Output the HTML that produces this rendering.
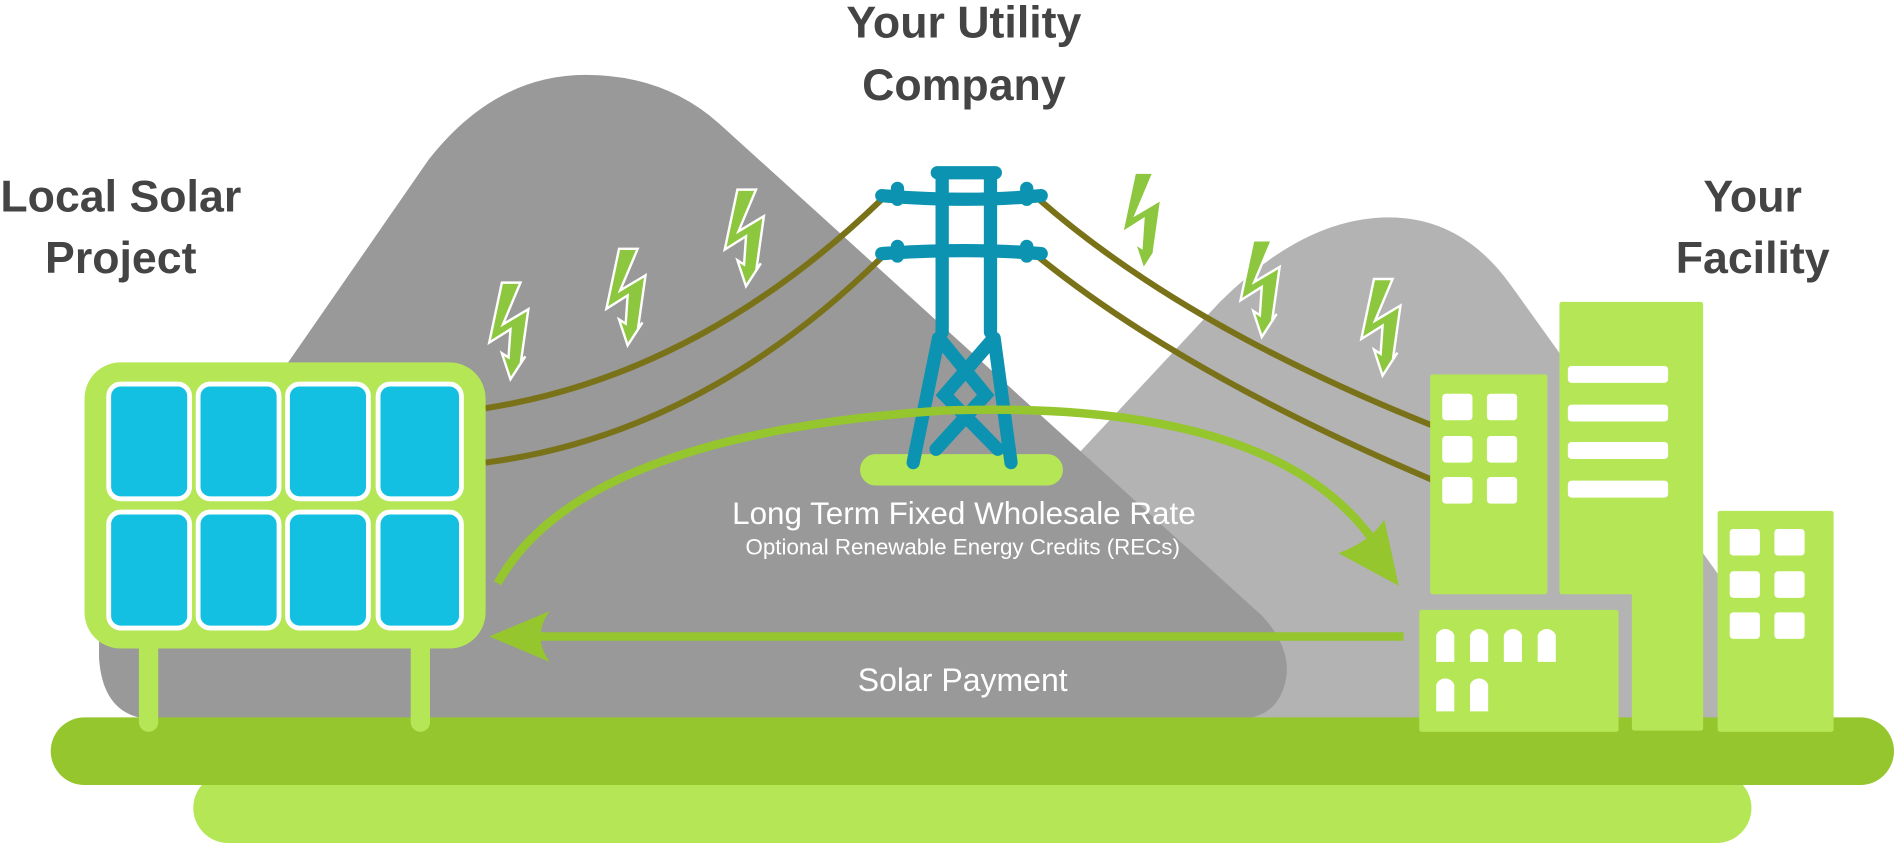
<!DOCTYPE html>
<html><head><meta charset="utf-8"><style>
html,body{margin:0;padding:0;background:#fff;}
svg{display:block;}
</style></head><body>
<svg width="1894" height="843" viewBox="0 0 1568 698" preserveAspectRatio="none" xmlns="http://www.w3.org/2000/svg">
<defs>
<path id="bolt" d="M10.5,0 L25.9,0 L11.4,34.5 L32.4,22 L26.2,66 L29.9,61 L17.6,80 L10.5,58.5 L16,62 L17.6,38.6 L0,49.7 Z"/>
</defs>
<!-- right mountain -->
<path d="M870,400 L1010,250 Q1080,180 1150,180 Q1210,180 1250,235 L1440,500 L1440,600 L860,600 Z" fill="#b3b3b3"/>
<!-- left mountain -->
<path d="M240,298 L355,132 Q410,62 485,62 Q550,62 595,102 L1045,510 Q1068,535 1065,560 Q1060,592 1030,595 L120,595 Q85,590 82,545 L82,520 Z" fill="#999999"/>
<!-- ground -->
<rect x="160" y="640" width="1290" height="58" rx="29" fill="#b5e655"/>
<rect x="42" y="594" width="1526" height="56" rx="28" fill="#95c62d"/>
<!-- power lines -->
<g fill="none" stroke="#7a7218" stroke-width="5">
<path d="M402,338 Q580,310 730,165"/>
<path d="M402,383 Q580,360 730,213"/>
<path d="M860,165 Q980,270 1185,352"/>
<path d="M860,213 Q980,310 1185,397"/>
</g>
<!-- lightning -->
<g fill="#8dc63f" stroke="#fff" stroke-width="2">
<use href="#bolt" x="405" y="234"/>
<use href="#bolt" x="502" y="206"/>
<use href="#bolt" x="600" y="157"/>
<use href="#bolt" x="929" y="143"/>
<use href="#bolt" x="1027" y="199"/>
<use href="#bolt" x="1127" y="231"/>
</g>
<!-- tower base -->
<rect x="712" y="376" width="168" height="26" rx="13" fill="#b5e655"/>
<!-- tower -->
<g stroke="#0c93b1" stroke-width="11" stroke-linecap="round" fill="none">
<path d="M780,147 L780,275 M820,147 L820,275 M776,143 L824,143"/>
<path d="M730,162 Q800,168 862,162 M730,210 Q800,205 862,210"/>
<path d="M743,156 L743,165 M850,156 L850,165 M743,204 L743,212 M850,204 L850,212"/>
<path d="M777,280 L756,383 M823,280 L837,383"/>
<path d="M780,283 L816,327 L775,372 M820,283 L782,327 L826,372"/>
</g>
<!-- green arc arrow -->
<path d="M412,483 Q480,360 780,340 Q1050,330 1135,445" fill="none" stroke="#95c62d" stroke-width="7"/>
<path d="M1108,458 L1158,485 L1146,430 Q1135,448 1108,458 Z" fill="#95c62d"/>
<!-- payment arrow -->
<path d="M1162,527 L445,527" stroke="#95c62d" stroke-width="7"/>
<path d="M405,527 L455,506 Q440,527 455,548 Z" fill="#95c62d"/>
<!-- solar panel -->
<rect x="115" y="530" width="16" height="76" rx="8" fill="#b5e655"/>
<rect x="340" y="530" width="16" height="76" rx="8" fill="#b5e655"/>
<rect x="70" y="300" width="332" height="237" rx="30" fill="#b5e655"/>
<g fill="#14c0e2" stroke="#fff" stroke-width="4">
<rect x="90" y="318" width="67" height="95" rx="10"/><rect x="164" y="318" width="67" height="95" rx="10"/>
<rect x="238" y="318" width="67" height="95" rx="10"/><rect x="313" y="318" width="69" height="95" rx="10"/>
<rect x="90" y="424" width="67" height="96" rx="10"/><rect x="164" y="424" width="67" height="96" rx="10"/>
<rect x="238" y="424" width="67" height="96" rx="10"/><rect x="313" y="424" width="69" height="96" rx="10"/>
</g>
<!-- buildings -->
<g fill="#b5e655">
<rect x="1184" y="310" width="97" height="182" rx="2"/>
<rect x="1291" y="250" width="119" height="242" rx="2"/>
<rect x="1351" y="480" width="59" height="125" rx="2"/>
<rect x="1422" y="423" width="96" height="183" rx="2"/>
<rect x="1175" y="505" width="165" height="101" rx="2"/>
</g>
<g fill="#fff">
<rect x="1194" y="326" width="25" height="22" rx="3"/><rect x="1231" y="326" width="25" height="22" rx="3"/>
<rect x="1194" y="361" width="25" height="22" rx="3"/><rect x="1231" y="361" width="25" height="22" rx="3"/>
<rect x="1194" y="395" width="25" height="22" rx="3"/><rect x="1231" y="395" width="25" height="22" rx="3"/>
<rect x="1298" y="303" width="83" height="14" rx="3"/><rect x="1298" y="335" width="83" height="14" rx="3"/>
<rect x="1298" y="366" width="83" height="14" rx="3"/><rect x="1298" y="398" width="83" height="14" rx="3"/>
<rect x="1432" y="438" width="25" height="22" rx="3"/><rect x="1469" y="438" width="25" height="22" rx="3"/>
<rect x="1432" y="473" width="25" height="22" rx="3"/><rect x="1469" y="473" width="25" height="22" rx="3"/>
<rect x="1432" y="507" width="25" height="22" rx="3"/><rect x="1469" y="507" width="25" height="22" rx="3"/>
<path d="M1189,548 V526 a8,8 0 0 1 15,0 V548Z"/><path d="M1217,548 V526 a8,8 0 0 1 15,0 V548Z"/>
<path d="M1245,548 V526 a8,8 0 0 1 15,0 V548Z"/><path d="M1273,548 V526 a8,8 0 0 1 15,0 V548Z"/>
<path d="M1189,589 V567 a8,8 0 0 1 15,0 V589Z"/><path d="M1217,589 V567 a8,8 0 0 1 15,0 V589Z"/>
</g>
<!-- text -->
<g font-family="Liberation Sans, sans-serif" font-weight="bold" fill="#444" font-size="37" text-anchor="middle">
<text x="100" y="175">Local Solar</text><text x="100" y="226">Project</text>
<text x="798" y="31">Your Utility</text><text x="798" y="83">Company</text>
<text x="1451" y="175">Your</text><text x="1451" y="226">Facility</text>
</g>
<g font-family="Liberation Sans, sans-serif" fill="#fff" text-anchor="middle">
<text x="798" y="434" font-size="26">Long Term Fixed Wholesale Rate</text>
<text x="797" y="459" font-size="18.5">Optional Renewable Energy Credits (RECs)</text>
<text x="797" y="572" font-size="26.5">Solar Payment</text>
</g>
</svg>
</body></html>
